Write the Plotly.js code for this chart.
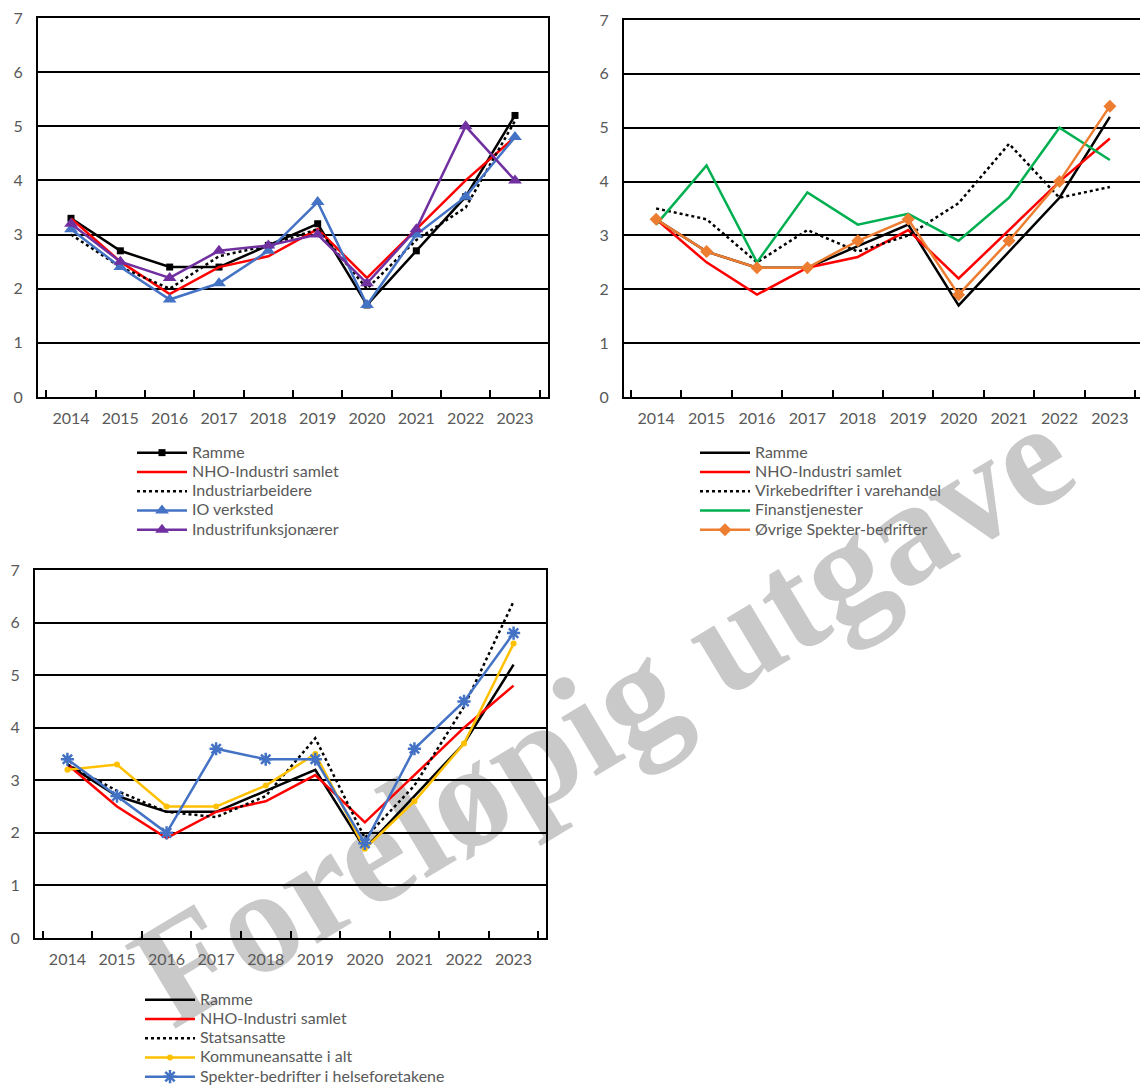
<!DOCTYPE html>
<html>
<head>
<meta charset="utf-8">
<script src="https://cdn.plot.ly/plotly-3.0.1.min.js"></script>
<style>
html, body { margin: 0; padding: 0; background: #ffffff; overflow: hidden; }
#chart { width: 1142px; height: 1088px; }
</style>
</head>
<body>
<div id="chart"></div>
<script>
// ---- Data ----
const years = ['2014', '2015', '2016', '2017', '2018', '2019', '2020', '2021', '2022', '2023'];

const ramme = [3.3, 2.7, 2.4, 2.4, 2.8, 3.2, 1.7, 2.7, 3.7, 5.2];
const nhoIndustriSamlet = [3.3, 2.5, 1.9, 2.4, 2.6, 3.1, 2.2, 3.1, 4.0, 4.8];

// Chart 1
const industriarbeidere = [3.0, 2.4, 2.0, 2.6, 2.8, 3.1, 2.0, 2.9, 3.5, 5.1];
const ioVerksted = [3.1, 2.4, 1.8, 2.1, 2.7, 3.6, 1.7, 3.0, 3.7, 4.8];
const industrifunksjonaerer = [3.2, 2.5, 2.2, 2.7, 2.8, 3.0, 2.1, 3.1, 5.0, 4.0];

// Chart 2
const virkeVarehandel = [3.5, 3.3, 2.5, 3.1, 2.7, 3.0, 3.6, 4.7, 3.7, 3.9];
const finanstjenester = [3.2, 4.3, 2.5, 3.8, 3.2, 3.4, 2.9, 3.7, 5.0, 4.4];
const ovrigeSpekter = [3.3, 2.7, 2.4, 2.4, 2.9, 3.3, 1.9, 2.9, 4.0, 5.4];

// Chart 3
const statsansatte = [3.3, 2.8, 2.4, 2.3, 2.7, 3.8, 1.9, 2.9, 4.4, 6.4];
const kommuneansatte = [3.2, 3.3, 2.5, 2.5, 2.9, 3.5, 1.7, 2.6, 3.7, 5.6];
const spekterHelse = [3.4, 2.7, 2.0, 3.6, 3.4, 3.4, 1.8, 3.6, 4.5, 5.8];

const names1 = ['Ramme', 'NHO-Industri samlet', 'Industriarbeidere', 'IO verksted', 'Industrifunksjonærer'];
const names2 = ['Ramme', 'NHO-Industri samlet', 'Virkebedrifter i varehandel', 'Finanstjenester', 'Øvrige Spekter-bedrifter'];
const names3 = ['Ramme', 'NHO-Industri samlet', 'Statsansatte', 'Kommuneansatte i alt', 'Spekter-bedrifter i helseforetakene'];
const watermarkText = 'Foreløpig utgave';

// ---- Styling ----
const W = 1142, H = 1088;
const BLACK = '#000000', RED = '#FF0000', BLUE = '#4472C4', PURPLE = '#7030A0',
      GREEN = '#00B050', ORANGE = '#ED7D31', YELLOW = '#FFC000';
const LW = 2.5;
const FONT = 'Lato, "Open Sans", sans-serif';
const TXT = '#595959';
const LEG_FONT = 12.5;   // legend font size: sets the row pitch of the legend
const LEG_TEXT = 16;     // displayed size of the legend labels

function tr(y, name, xa, ya, leg, line, marker) {
  const t = {
    type: 'scatter', x: years, y: y,
    name: '<span style="font-size:' + LEG_TEXT + 'px">' + name + '</span>',
    xaxis: xa, yaxis: ya, legend: leg,
    mode: marker ? 'lines+markers' : 'lines',
    line: Object.assign({ width: LW }, line),
    hoverinfo: 'x+y'
  };
  if (marker) t.marker = marker;
  return t;
}

const data = [
  tr(ramme, names1[0], 'x', 'y', 'legend', { color: BLACK }, { symbol: 'square', size: 7, color: BLACK }),
  tr(nhoIndustriSamlet, names1[1], 'x', 'y', 'legend', { color: RED }),
  tr(industriarbeidere, names1[2], 'x', 'y', 'legend', { color: BLACK, dash: 'dot' }),
  tr(ioVerksted, names1[3], 'x', 'y', 'legend', { color: BLUE }, { symbol: 'triangle-up', size: 12, color: BLUE }),
  tr(industrifunksjonaerer, names1[4], 'x', 'y', 'legend', { color: PURPLE }, { symbol: 'triangle-up', size: 12, color: PURPLE }),

  tr(ramme, names2[0], 'x2', 'y2', 'legend2', { color: BLACK }),
  tr(nhoIndustriSamlet, names2[1], 'x2', 'y2', 'legend2', { color: RED }),
  tr(virkeVarehandel, names2[2], 'x2', 'y2', 'legend2', { color: BLACK, dash: 'dot' }),
  tr(finanstjenester, names2[3], 'x2', 'y2', 'legend2', { color: GREEN }),
  tr(ovrigeSpekter, names2[4], 'x2', 'y2', 'legend2', { color: ORANGE }, { symbol: 'diamond', size: 10, color: ORANGE }),

  tr(ramme, names3[0], 'x3', 'y3', 'legend3', { color: BLACK }),
  tr(nhoIndustriSamlet, names3[1], 'x3', 'y3', 'legend3', { color: RED }),
  tr(statsansatte, names3[2], 'x3', 'y3', 'legend3', { color: BLACK, dash: 'dot' }),
  tr(kommuneansatte, names3[3], 'x3', 'y3', 'legend3', { color: YELLOW }, { symbol: 'circle', size: 6, color: YELLOW }),
  tr(spekterHelse, names3[4], 'x3', 'y3', 'legend3', { color: BLUE }, { symbol: 'asterisk-open', size: 11, color: BLUE, line: { width: 2.5, color: BLUE } })
];

function px(x) { return x / W; }
function py(y) { return 1 - y / H; }

function xax(left, right, anchor) {
  return {
    domain: [px(left), px(right)], anchor: anchor, type: 'category',
    showline: true, linecolor: BLACK, linewidth: 2, mirror: true,
    ticks: 'inside', tickson: 'boundaries', ticklen: 7, tickwidth: 2, tickcolor: BLACK,
    showgrid: false, zeroline: false, fixedrange: true,
    tickfont: { family: FONT, size: 16, color: TXT }, ticklabelstandoff: 6
  };
}
function yax(top, bottom, anchor) {
  return {
    domain: [py(bottom), py(top)], anchor: anchor, range: [0, 7], dtick: 1, tick0: 0,
    showline: true, linecolor: BLACK, linewidth: 2, mirror: true,
    ticks: '', showgrid: true, gridcolor: BLACK, gridwidth: 2, zeroline: false, fixedrange: true,
    tickfont: { family: FONT, size: 16, color: TXT }, ticklabelstandoff: 10
  };
}
function leg(left, top) {
  return {
    x: px(left), y: py(top), xanchor: 'left', yanchor: 'top', xref: 'paper', yref: 'paper',
    bgcolor: 'rgba(0,0,0,0)', borderwidth: 0, tracegroupgap: 0, itemwidth: 50,
    font: { family: FONT, size: LEG_FONT, color: TXT }
  };
}

const layout = {
  width: W, height: H,
  margin: { l: 0, r: 0, t: 0, b: 0, pad: 0, autoexpand: false },
  paper_bgcolor: '#ffffff', plot_bgcolor: '#ffffff',
  showlegend: true,
  xaxis: xax(38, 548, 'y'), yaxis: yax(18, 397, 'x'),
  xaxis2: xax(624, 1142, 'y2'), yaxis2: yax(20, 397, 'x2'),
  xaxis3: xax(35, 546, 'y3'), yaxis3: yax(570, 938, 'x3'),
  legend: leg(132, 438),
  legend2: leg(695, 438),
  legend3: leg(140, 985),
  annotations: [{
    text: watermarkText, xref: 'paper', yref: 'paper', x: px(602), y: py(714),
    xanchor: 'center', yanchor: 'middle', showarrow: false, textangle: -31,
    font: { family: '"Liberation Serif", serif', size: 148, color: '#c9c9c9', weight: 'bold' }
  }]
};

const gd = document.getElementById('chart');
Plotly.newPlot(gd, data, layout, { displayModeBar: false, staticPlot: true }).then(function () {
  // place the watermark beneath the plotted lines and gridlines
  const ann = gd.querySelector('.annotation');
  const below = gd.querySelector('.main-svg .layer-below');
  if (ann && below) { below.appendChild(ann); }
});
</script>
</body>
</html>
